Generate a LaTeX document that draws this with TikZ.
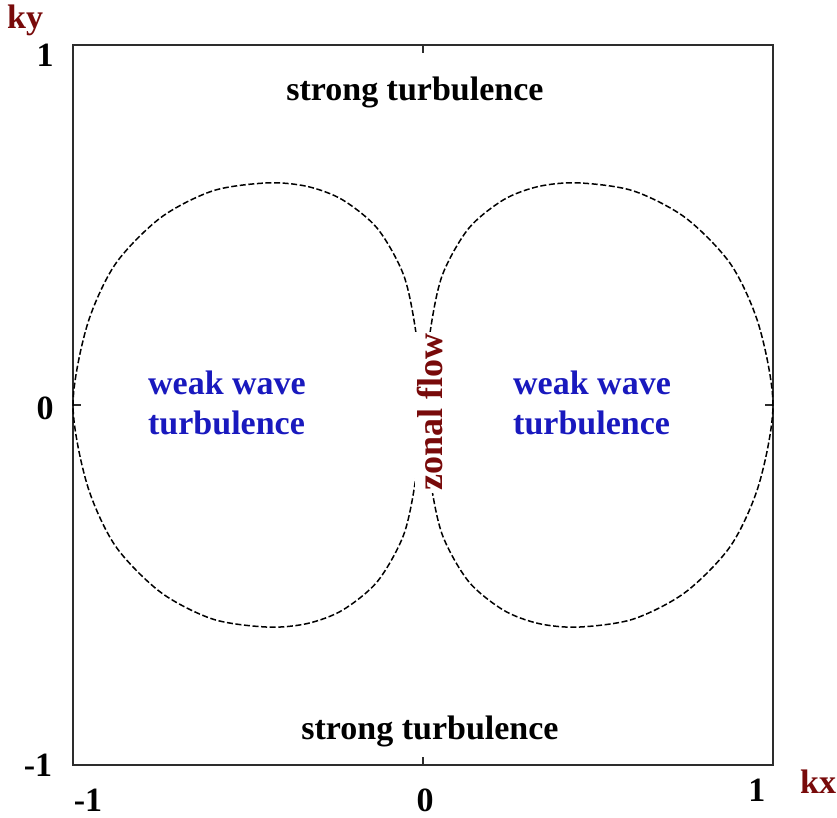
\documentclass[tikz,border=0pt]{standalone}
\usepackage{fontspec}
\setmainfont{Liberation Serif}
\usepackage{tikz}
\usetikzlibrary{positioning}
\definecolor{AxisRed}{RGB}{120,10,10}
\definecolor{WaveBlue}{RGB}{25,25,190}
\definecolor{FrameGrey}{RGB}{45,45,45}

\begin{document}
\begin{tikzpicture}[
  x=175pt, y=180pt,
  font=\fontsize{17}{20}\selectfont\bfseries,
  regime/.style={align=left, text=WaveBlue, inner sep=0pt},
  ticklabel/.style={inner sep=0pt},
  axislabel/.style={text=AxisRed, inner sep=0pt},
  boundary/.style={line width=0.75pt, dash pattern=on 3pt off 1.3pt},
]
\useasboundingbox (-1.2086,-1.1472) rectangle (1.1829,1.125);

% Frame and ticks
\draw[FrameGrey, line width=0.75pt] (-1,-1) rectangle (1,1);
\draw[FrameGrey, line width=0.6pt] (0,-1) -- ++(0,0.022);
\draw[FrameGrey, line width=0.6pt] (0,1) -- ++(0,-0.022);
\draw[FrameGrey, line width=0.6pt] (-1,0) -- ++(0.023,0);
\draw[FrameGrey, line width=0.6pt] (1,0) -- ++(-0.023,0);

% Axis labels
\node[axislabel] (ky) at (-1.137,1.069) {ky};
\node[axislabel] (kx) at (1.129,-1.047) {kx};
\node[ticklabel] (yone)  at (-1.08,0.972)  {1};
\node[ticklabel] (yzero) at (-1.08,-0.008) {0};
\node[ticklabel] (ymone) at (-1.10,-1.0)   {-1};
\node[ticklabel] (xmone) at (-0.957,-1.097) {-1};
\node[ticklabel] (xzero) at (0.006,-1.097)  {0};
\node[ticklabel] (xone)  at (0.954,-1.069)  {1};

% Boundaries of the weak wave region
\foreach \s in {-1,1}{
  \draw[boundary, xscale=\s] plot[smooth cycle] coordinates {
    (0,0) (0.02,0.2) (0.055,0.36) (0.13,0.49) (0.23,0.57) (0.33,0.607)
    (0.443,0.617) (0.6,0.595) (0.75,0.52) (0.88,0.39) (0.96,0.22)
    (1,0) (0.96,-0.22) (0.88,-0.39) (0.75,-0.52) (0.6,-0.595)
    (0.443,-0.617) (0.33,-0.607) (0.23,-0.57) (0.13,-0.49) (0.055,-0.36)
    (0.02,-0.2)};
}

% Regions
\node (strongtop) at (-0.023,0.869) {strong turbulence};
\node (strongbot) at (0.02,-0.908) {strong turbulence};
\node[regime] (weakleft)  at (-0.56,0.005) {weak wave\\turbulence};
\node[regime] (weakright) at (0.483,0.005) {weak wave\\turbulence};
\node[text=AxisRed, fill=white, rotate=90, inner sep=1pt, font=\fontsize{18}{20}\selectfont\bfseries] (zonal) at (0.02,-0.02) {zonal flow};

\end{tikzpicture}
\end{document}
